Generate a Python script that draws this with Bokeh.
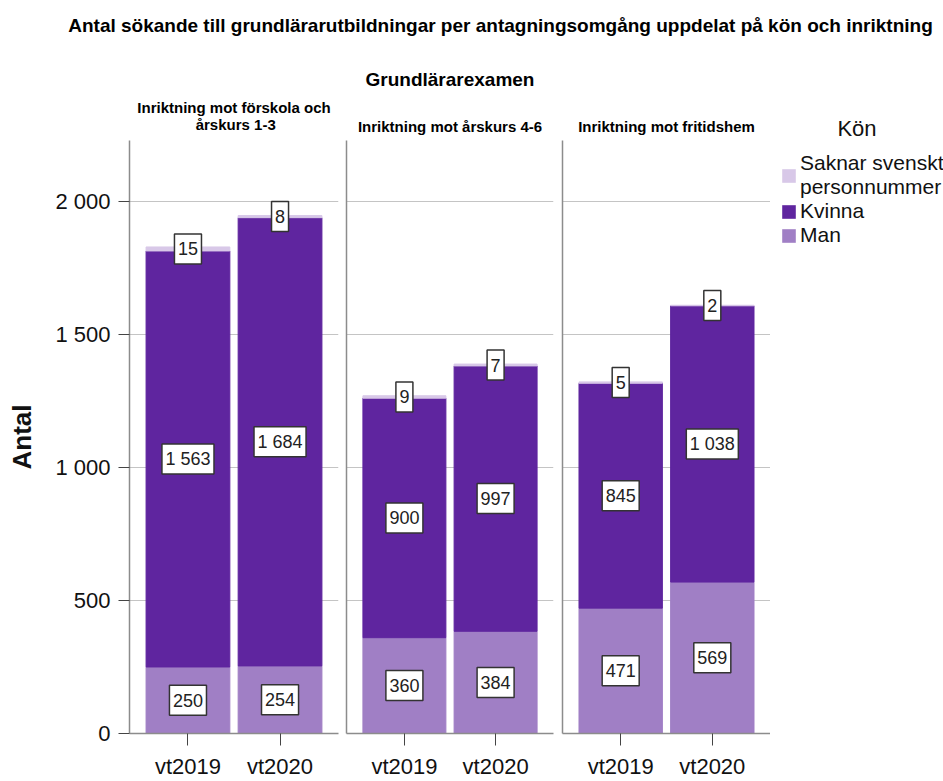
from bokeh.plotting import figure
from bokeh.models import (ColumnDataSource, FactorRange, Range1d, FixedTicker,
                          Legend, LegendItem, Title)
from bokeh.core.properties import value
from bokeh.layouts import column, row
from bokeh.embed import file_html
from bokeh.resources import INLINE

# ---------------- data ----------------
main_title = "Antal sökande till grundlärarutbildningar per antagningsomgång uppdelat på kön och inriktning"
sub_title = "Grundlärarexamen"
panels = [["Inriktning mot förskola och", "årskurs 1-3"],
          ["Inriktning mot årskurs 4-6"],
          ["Inriktning mot fritidshem"]]
years = ["vt2019", "vt2020"]
man = [[250, 254], [360, 384], [471, 569]]
kvinna = [[1563, 1684], [900, 997], [845, 1038]]
saknar = [[15, 8], [9, 7], [5, 2]]
series_keys = ["man", "kvinna", "saknar"]
series_names = ["Man", "Kvinna", "Saknar svenskt\npersonnummer"]
colors = ["#A07FC5", "#5F259F", "#D8C8E8"]
y_ticks = [0, 500, 1000, 1500, 2000]
y_tick_labels = ["0", "500", "1 000", "1 500", "2 000"]
y_label = "Antal"
legend_title = "Kön"

FONT = "Liberation Sans"
Y_MAX = 2228
LABEL_PX = 18
NB = "\u00a0"
HEAD_H = 47
PANEL_H = 781 - HEAD_H
TOP_B = 140 - HEAD_H
BOT_B = 45


def fmt(v):
    return f"{v:,}".replace(",", " ")


def text_w(s):
    # approximate rendered width of a number label in px
    return sum(0.556 if c.isdigit() else 0.278 for c in s) * LABEL_PX


def panel_source(i):
    return ColumnDataSource(dict(year=years, man=man[i], kvinna=kvinna[i], saknar=saknar[i]))


def make_panel(i, width, bl, br):
    src = panel_source(i)
    data = src.data
    lab_x, lab_y, lab_t, lab_w = [], [], [], []
    for j, yr in enumerate(years):
        base = 0
        for k in series_keys:
            v = data[k][j]
            s = fmt(v)
            lab_x.append(yr)
            lab_y.append(base + v / 2)
            lab_t.append(s)
            lab_w.append(text_w(s) + 7)
            base += v
    lsrc = ColumnDataSource(dict(x=lab_x, y=lab_y, t=lab_t, w=lab_w))

    p = figure(x_range=FactorRange(factors=years, range_padding=0.135,
                                   range_padding_units="absolute"),
               y_range=Range1d(0, Y_MAX),
               width=width, height=PANEL_H,
               min_border_left=bl, min_border_right=br,
               min_border_top=TOP_B, min_border_bottom=BOT_B,
               output_backend="svg", toolbar_location=None,
               background_fill_color="white", border_fill_color="white")
    p.outline_line_color = None

    # facet title (closest to the frame)
    lines = panels[i]
    if len(lines) == 2:
        # centre the second line under the first one
        ftext = lines[0] + "\n" + NB * 14 + lines[1]
        fstand = 16
    else:
        ftext = lines[0]
        fstand = 12
    ft = Title(text=ftext, align="center", text_font=FONT, text_font_size="15px",
               text_font_style="bold", text_color="#000000", standoff=fstand,
               text_line_height=1.0)
    p.add_layout(ft, "above")

    rs = p.vbar_stack(series_keys, x="year", width=0.91, color=colors, source=src)

    p.rect(x="x", y="y", width="w", height=30, width_units="screen",
           height_units="screen", fill_color="white", line_color="#333333",
           line_width=1.5, source=lsrc)
    p.text(x="x", y="y", text="t", source=lsrc, text_align="center",
           text_baseline="middle", text_font=value(FONT),
           text_font_size=f"{LABEL_PX}px", text_color="#222222")

    p.xgrid.grid_line_color = None
    p.ygrid.ticker = FixedTicker(ticks=y_ticks)
    p.ygrid.grid_line_color = "#c4c4c4"
    p.ygrid.grid_line_width = 1

    xa = p.xaxis[0]
    xa.axis_line_color = "#8c8c8c"
    xa.axis_line_width = 1.5
    xa.major_tick_line_color = "#444444"
    xa.major_tick_out = 12
    xa.major_tick_in = 0
    xa.minor_tick_line_color = None
    xa.major_label_standoff = 8
    xa.major_label_text_font = FONT
    xa.major_label_text_font_size = "22px"
    xa.major_label_text_color = "#111111"

    ya = p.yaxis[0]
    ya.axis_line_color = "#8c8c8c"
    ya.axis_line_width = 1.5
    ya.minor_tick_line_color = None
    if i == 0:
        ya.ticker = FixedTicker(ticks=y_ticks)
        ya.major_label_overrides = {t: l for t, l in zip(y_ticks, y_tick_labels)}
        ya.major_tick_line_color = "#444444"
        ya.major_tick_out = 11
        ya.major_tick_in = 0
        ya.major_label_standoff = 8
        ya.major_label_text_font = FONT
        ya.major_label_text_font_size = "22px"
        ya.major_label_text_color = "#111111"
        ya.axis_label = y_label
        ya.axis_label_text_font = FONT
        ya.axis_label_text_font_size = "26px"
        ya.axis_label_text_font_style = "bold"
        ya.axis_label_text_color = "#111111"
        ya.axis_label_standoff = 15
    else:
        ya.ticker = FixedTicker(ticks=[])
        ya.major_tick_line_color = None
        ya.major_tick_out = 0
        ya.major_tick_in = 0
        ya.major_label_standoff = 0
    return p, rs, src


p1, _, _ = make_panel(0, 342, 129, 4)
p2, _, _ = make_panel(1, 216, 4, 5)
p3, rs3, src3 = make_panel(2, 212, 4, 0)

# subtitle centred over the middle panel (outer title of panel 2)
sub = Title(text=sub_title, align="center", text_font=FONT, text_font_size="19px",
            text_font_style="bold", text_color="#000000", standoff=39)
p2.add_layout(sub, "above")

# legend area: the last panel's stacked series as zero-width keys,
# so that the legend swatches come from real renderers
lg = figure(width=173, height=PANEL_H, x_range=FactorRange(factors=years),
            y_range=Range1d(-2, -1), min_border_left=0, min_border_right=0,
            min_border_top=TOP_B, min_border_bottom=BOT_B, output_backend="svg",
            toolbar_location=None, x_axis_type=None, y_axis_type=None)
lg.outline_line_color = None
lg.grid.visible = False
lg.title.text = legend_title
lg.title.align = "center"
lg.title.text_font = FONT
lg.title.text_font_size = "22px"
lg.title.text_font_style = "normal"
lg.title.text_color = "#111111"
lg.title.standoff = 0
lrs = lg.vbar_stack(series_keys, x="year", width=0, fill_color=colors,
                    line_color=None, source=src3)

legend = Legend(items=[LegendItem(label=series_names[2], renderers=[lrs[2]]),
                       LegendItem(label=series_names[1], renderers=[lrs[1]]),
                       LegendItem(label=series_names[0], renderers=[lrs[0]])],
                location=(10, 486),
                border_line_color=None, background_fill_alpha=0,
                glyph_width=17, glyph_height=17, label_standoff=3,
                label_height=17, spacing=0, padding=0, margin=0,
                label_text_font=FONT, label_text_font_size="21px",
                label_text_line_height=0.8, label_text_color="#111111")
lg.add_layout(legend)

# header with main title
head = figure(width=943, height=HEAD_H, x_range=Range1d(0, 1), y_range=Range1d(0, 1),
              min_border_left=57, min_border_right=0, min_border_top=0,
              min_border_bottom=0, output_backend="svg", toolbar_location=None,
              x_axis_type=None, y_axis_type=None)
head.outline_line_color = None
head.grid.visible = False
head.title.text = main_title
head.title.align = "center"
head.title.text_font = FONT
head.title.text_font_size = "19px"
head.title.text_font_style = "bold"
head.title.text_color = "#000000"
head.title.standoff = 24

layout = column(head, row(p1, p2, p3, lg, spacing=0), spacing=0)
open("out.html", "w").write(file_html(layout, INLINE))
